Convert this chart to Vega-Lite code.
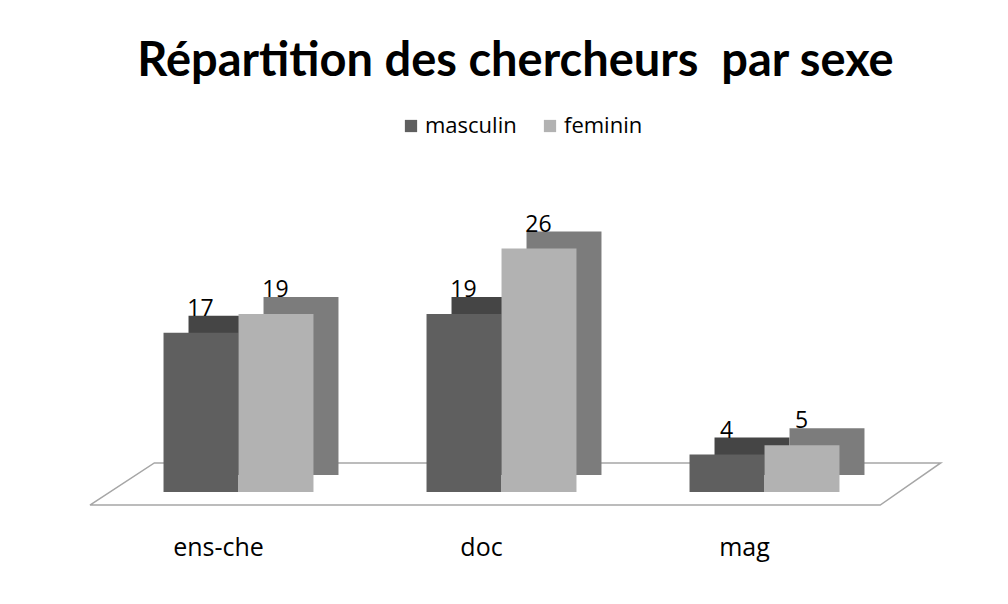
{
  "$schema": "https://vega.github.io/schema/vega-lite/v6.json",
  "width": 789,
  "height": 309,
  "autosize": {"type": "none"},
  "padding": {"left": 107, "top": 183, "right": 112, "bottom": 112},
  "background": "white",
  "title": {
    "text": "Répartition des chercheurs\u00a0 par sexe",
    "font": "Lato",
    "fontSize": 47,
    "fontWeight": "bold",
    "color": "#000000",
    "anchor": "middle",
    "dx": 14,
    "offset": 29
  },
  "datasets": {
    "barres": [
      {"categorie": "ens-che", "sexe": "masculin", "nombre": 17},
      {"categorie": "ens-che", "sexe": "feminin", "nombre": 19},
      {"categorie": "doc", "sexe": "masculin", "nombre": 19},
      {"categorie": "doc", "sexe": "feminin", "nombre": 26},
      {"categorie": "mag", "sexe": "masculin", "nombre": 4},
      {"categorie": "mag", "sexe": "feminin", "nombre": 5}
    ],
    "sol": [
      {"ordre": 1, "px": -0.065, "py": -1.4},
      {"ordre": 2, "px": 0.18, "py": 3.1},
      {"ordre": 3, "px": 3.17, "py": 3.1},
      {"ordre": 4, "px": 2.94, "py": -1.4},
      {"ordre": 5, "px": -0.065, "py": -1.4}
    ]
  },
  "layer": [
    {
      "data": {"name": "sol"},
      "mark": {"type": "line", "color": "#a6a6a6", "strokeWidth": 1.5},
      "encoding": {
        "x": {"field": "px", "type": "quantitative", "scale": {"domain": [0, 3], "nice": false, "zero": false}, "axis": null},
        "y": {"field": "py", "type": "quantitative", "scale": {"domain": [0, 33], "nice": false}, "axis": null},
        "order": {"field": "ordre", "type": "quantitative"}
      }
    },
    {
      "data": {"name": "barres"},
      "encoding": {
        "x": {
          "field": "categorie",
          "type": "nominal",
          "sort": ["ens-che", "doc", "mag"],
          "scale": {"paddingInner": 0.43, "paddingOuter": 0.215},
          "axis": {
            "title": null,
            "labelAngle": 0,
            "domain": false,
            "ticks": false,
            "labelPadding": 43,
            "labelOffset": -20,
            "labelFont": "Open Sans",
            "labelFontSize": 25,
            "labelColor": "#000000"
          }
        },
        "y": {
          "field": "nombre",
          "type": "quantitative",
          "scale": {"domain": [0, 33], "nice": false},
          "axis": null
        }
      },
      "layer": [
        {
          "transform": [{"filter": "datum.sexe === 'masculin'"}],
          "mark": {"type": "bar", "width": {"band": 0.5}, "xOffset": -12.5, "yOffset": -17, "color": "#454545"}
        },
        {
          "transform": [{"filter": "datum.sexe === 'feminin'"}],
          "mark": {"type": "bar", "width": {"band": 0.5}, "xOffset": 62.5, "yOffset": -17, "color": "#7c7c7c"}
        },
        {
          "transform": [{"filter": "datum.sexe === 'masculin'"}],
          "mark": {"type": "bar", "width": {"band": 0.5}, "xOffset": -37.5},
          "encoding": {
            "color": {
              "field": "sexe",
              "type": "nominal",
              "scale": {"domain": ["masculin", "feminin"], "range": ["#5f5f5f", "#b2b2b2"]},
              "legend": {
                "title": null,
                "orient": "none",
                "legendX": 293,
                "legendY": -68,
                "direction": "horizontal",
                "symbolType": "square",
                "symbolSize": 150,
                "symbolStrokeWidth": 0,
                "labelFont": "Open Sans",
                "labelFontSize": 22,
                "labelColor": "#000000",
                "columnPadding": 22,
                "labelOffset": 3
              }
            }
          }
        },
        {
          "transform": [{"filter": "datum.sexe === 'feminin'"}],
          "mark": {"type": "bar", "width": {"band": 0.5}, "xOffset": 37.5},
          "encoding": {
            "color": {
              "field": "sexe",
              "type": "nominal",
              "scale": {"domain": ["masculin", "feminin"], "range": ["#5f5f5f", "#b2b2b2"]}
            }
          }
        },
        {
          "transform": [{"filter": "datum.sexe === 'masculin'"}],
          "mark": {"type": "text", "dy": -12, "dx": -38, "font": "Open Sans", "fontSize": 23, "color": "#000000", "baseline": "bottom"},
          "encoding": {"text": {"field": "nombre", "type": "quantitative"}}
        },
        {
          "transform": [{"filter": "datum.sexe === 'feminin'"}],
          "mark": {"type": "text", "dy": -12, "dx": 37, "font": "Open Sans", "fontSize": 23, "color": "#000000", "baseline": "bottom"},
          "encoding": {"text": {"field": "nombre", "type": "quantitative"}}
        }
      ]
    }
  ],
  "resolve": {"scale": {"x": "independent"}},
  "config": {"view": {"stroke": null}}
}
